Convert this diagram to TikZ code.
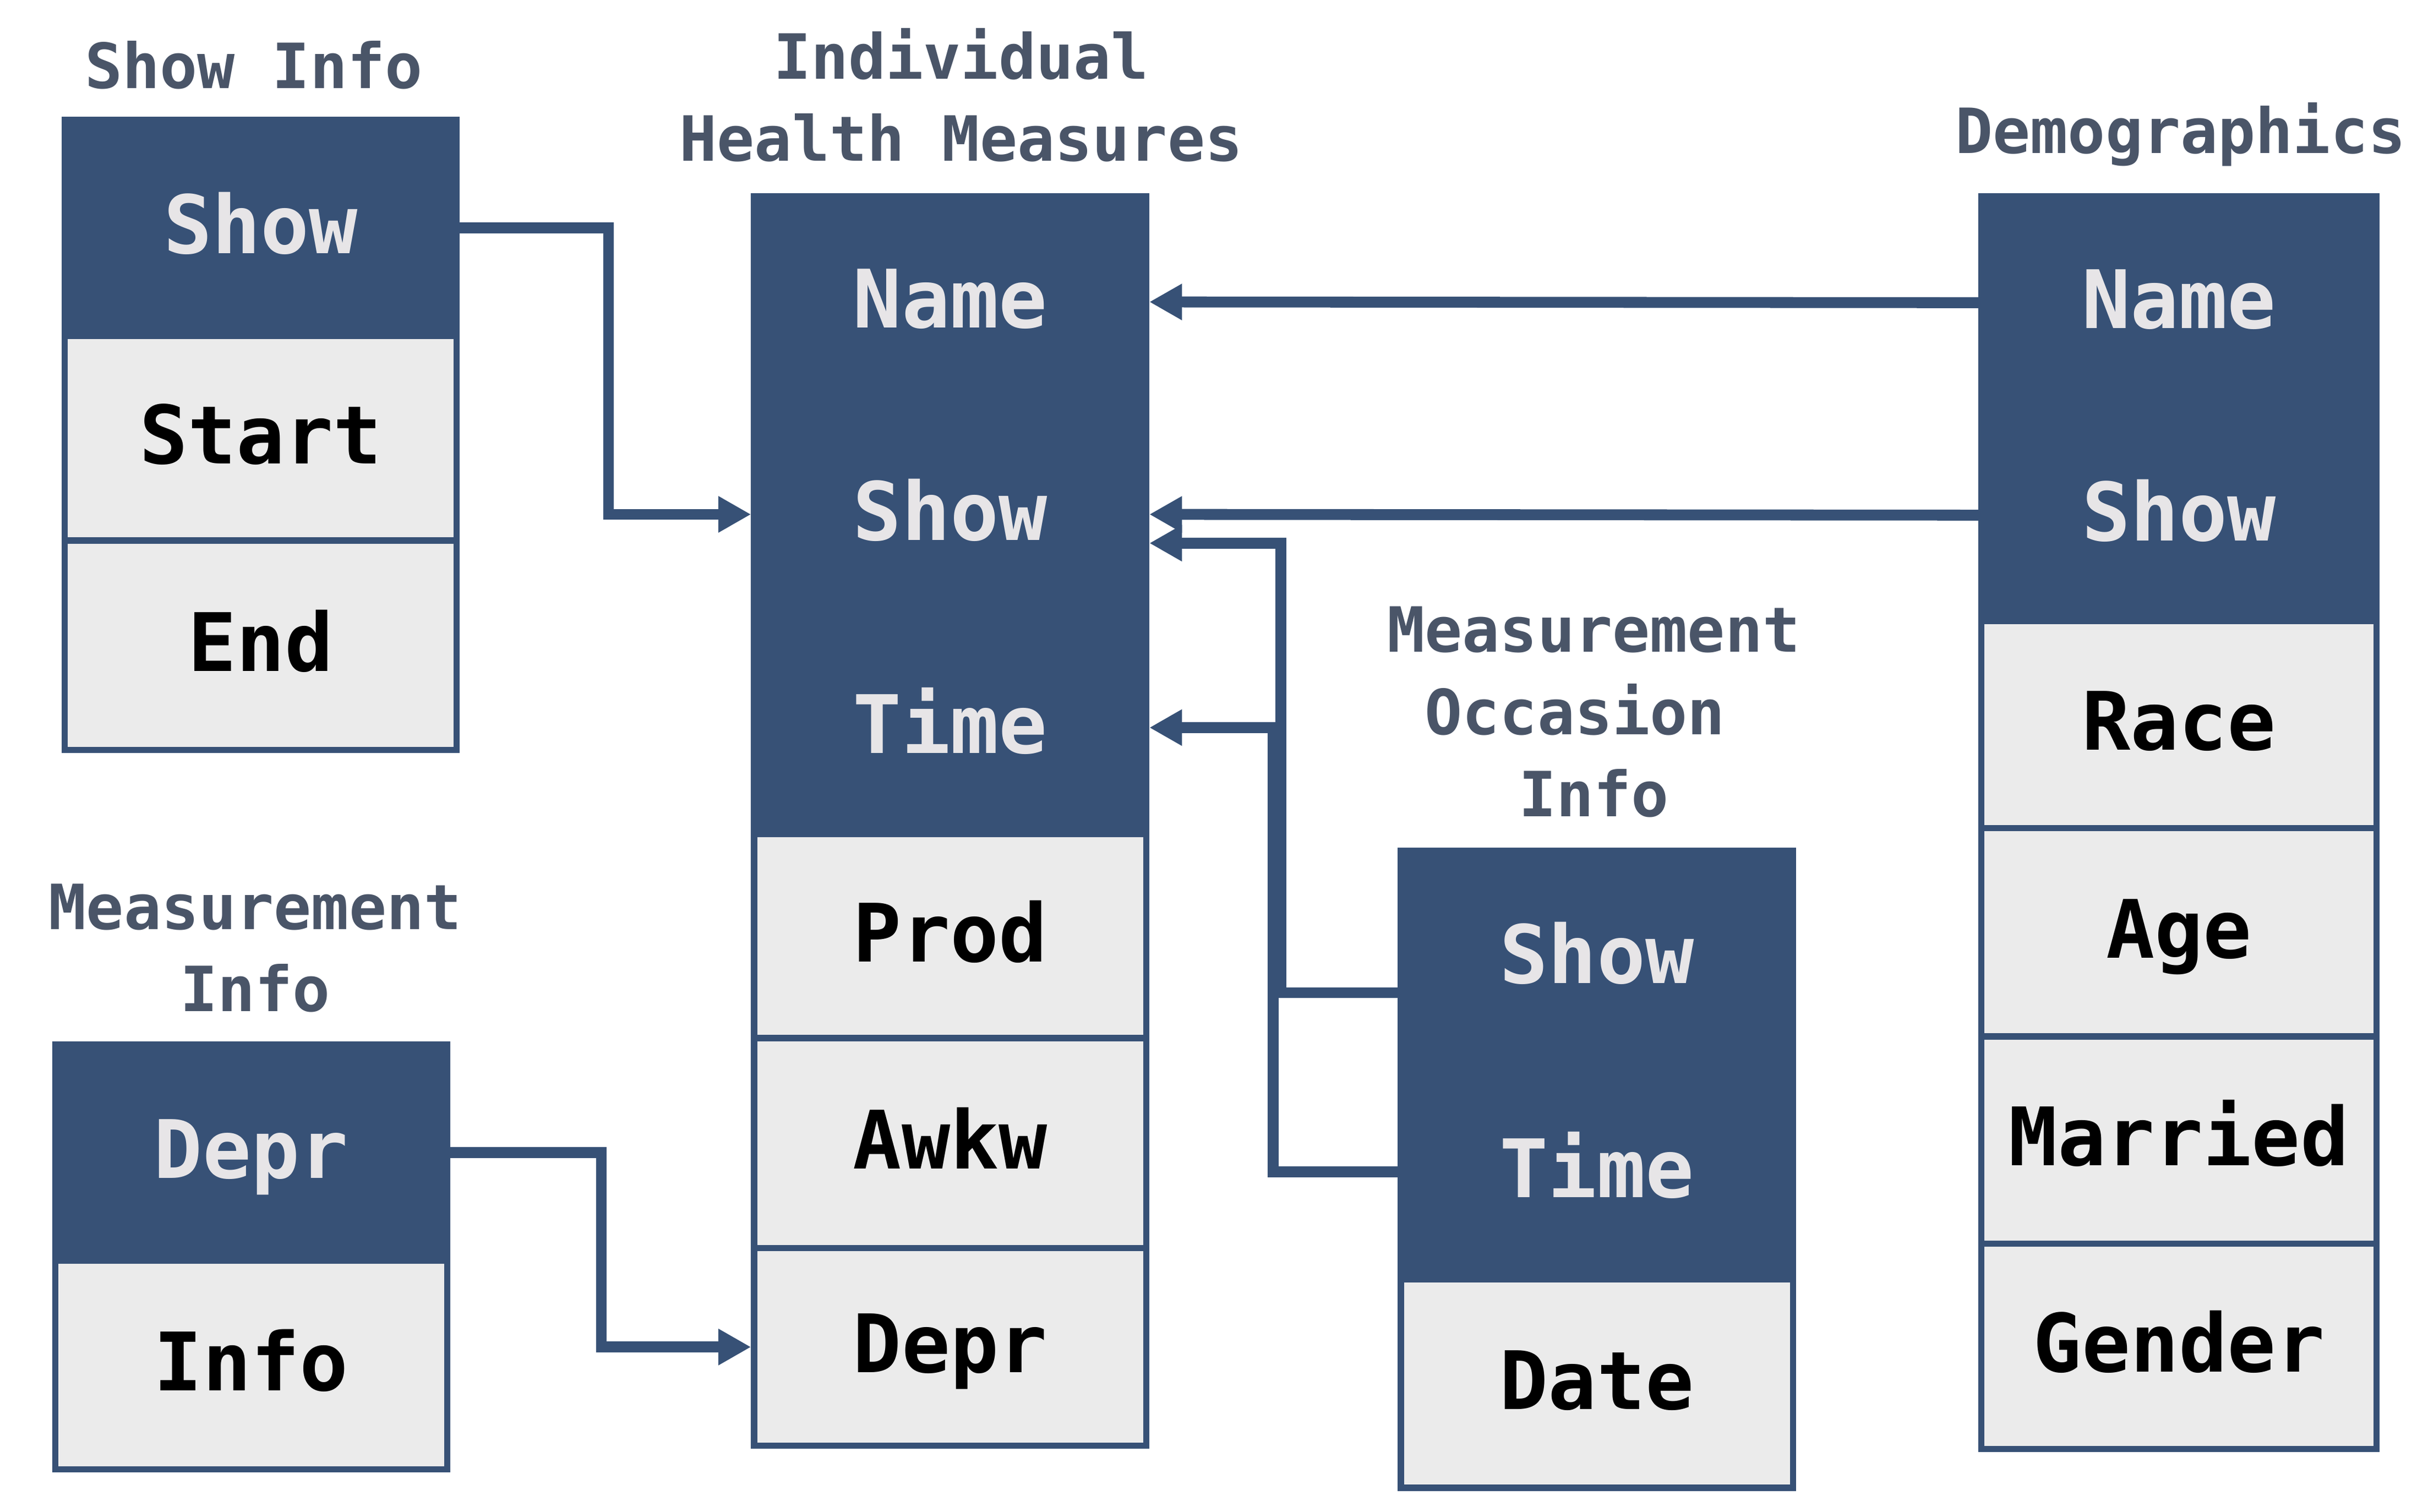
\documentclass[tikz,border=0pt]{standalone}
\usepackage{fontspec}
\setmonofont{DejaVu Sans Mono}
\usetikzlibrary{arrows.meta}
\definecolor{tabblue}{RGB}{55,81,118}
\definecolor{tabgray}{RGB}{235,235,235}
\definecolor{headtext}{RGB}{231,229,231}
\definecolor{titletext}{RGB}{74,85,104}
\tikzset{
  keycell/.style={draw=tabblue, fill=tabblue, line width=0.08cm, minimum width=5.04cm, inner sep=0pt,
    text=headtext, font=\ttfamily\bfseries\fontsize{29.5}{36}\selectfont, text height=0.76cm, text depth=0.1cm},
  fieldcell/.style={keycell, fill=tabgray, text=black},
  tabtitle/.style={anchor=base, align=center, inner sep=0pt, text=titletext,
    font=\ttfamily\bfseries\fontsize{22.8}{30}\selectfont},
  link/.style={draw=tabblue, line width=0.14cm, -{Triangle[length=0.42cm,width=0.44cm]}}
}

\begin{document}
\begin{tikzpicture}[x=0.02cm, y=-0.02cm]
	%%%%% START %%%%%
	\useasboundingbox (0,0) rectangle (1560,971.5);
	
	% show info
	\node[tabtitle] (sititle) at (163,56.8) {Show Info};
	\node[keycell, minimum height=2.77cm] (sishow) at (167.5,146.3) {Show};
	\node[fieldcell, minimum height=2.63cm] (sistart) at (167.5,281.5) {Start};
	\node[fieldcell, minimum height=2.69cm] (siend) at (167.5,414.7) {End};
	
	% individual health measures (title sits on its last line)
	\node[tabtitle] (ihmtitle) at (617.5,103.6) {Individual\\Health Measures};
	\node[keycell, minimum height=2.72cm] (ihmname) at (610.5,194) {Name};
	\node[keycell, minimum height=2.74cm] (ihmshow) at (610.5,330.5) {Show};
	\node[keycell, minimum height=2.74cm] (ihmtime) at (610.5,467.5) {Time};
	\node[fieldcell, minimum height=2.62cm] (ihmprod) at (610.5,601.5) {Prod};
	\node[fieldcell, minimum height=2.70cm] (ihmawkw) at (610.5,734.5) {Awkw};
	\node[fieldcell, minimum height=2.54cm] (ihmdepr) at (610.5,865.5) {Depr};
	
	% demographics
	\node[tabtitle] (dmtitle) at (1401,98.5) {Demographics};
	\node[keycell, minimum width=5.08cm, minimum height=2.74cm] (dmname) at (1400,194.5) {Name};
	\node[keycell, minimum width=5.08cm, minimum height=2.72cm] (dmshow) at (1400,331) {Show};
	\node[fieldcell, minimum width=5.08cm, minimum height=2.66cm] (dmrace) at (1400,465.5) {Race};
	\node[fieldcell, minimum width=5.08cm, minimum height=2.68cm] (dmage) at (1400,599) {Age};
	\node[fieldcell, minimum width=5.08cm, minimum height=2.66cm] (dmmarried) at (1400,732.5) {Married};
	\node[fieldcell, minimum width=5.08cm, minimum height=2.64cm] (dmgender) at (1400,865) {Gender};
	
	% measurement occasion info
	\node[tabtitle] (moititle) at (1024,524.5) {Measurement\\Occasion\hphantom{n}\\Info};
	\node[keycell, minimum height=2.75cm] (moishow) at (1026,615.3) {Show};
	\node[keycell, minimum height=2.76cm] (moitime) at (1026,753) {Time};
	\node[fieldcell, minimum height=2.68cm] (moidate) at (1026,889) {Date};
	
	% measurement info
	\node[tabtitle] (mititle) at (164,650) {Measurement\\Info};
	\node[keycell, minimum height=2.78cm] (midepr) at (161.4,740.5) {Depr};
	\node[fieldcell, minimum height=2.68cm] (miinfo) at (161.4,877) {Info};
	
	% links
	\draw[link] (sishow.east) -- ++(95.5,0) |- (ihmshow.west);
	\draw[link] (dmname.west) -- (ihmname.east);
	\draw[link] (dmshow.west) -- (ihmshow.east);
	\draw[link] ([yshift=-0.45cm]moishow.west) -- ++(-75,0) |- ([yshift=-0.37cm]ihmshow.east);
	\draw[link] (moitime.west) -- ++(-80,0) |- (ihmtime.east);
	\draw[link] (midepr.east) -- ++(97,0) |- (ihmdepr.west);
	
	%%%%% END %%%%%
\end{tikzpicture}
\end{document}
